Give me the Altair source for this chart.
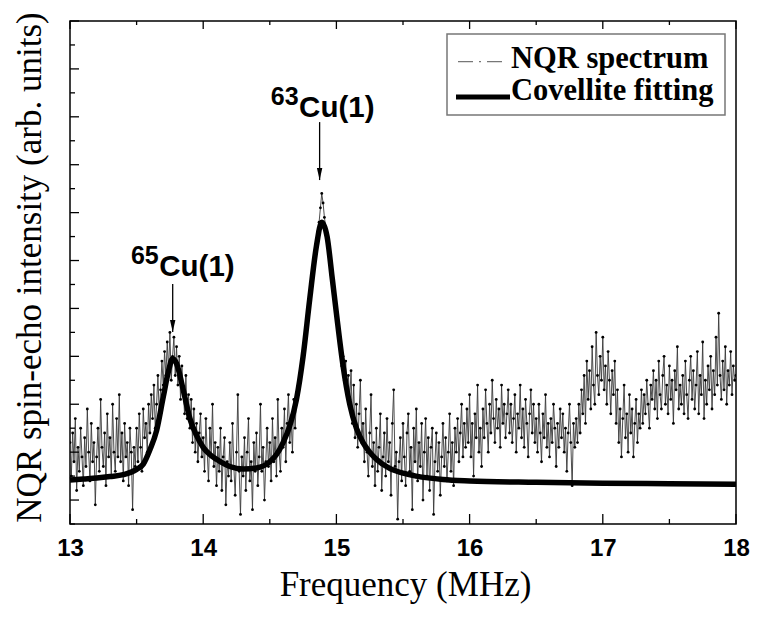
import altair as alt
import pandas as pd

# ---------------- data ----------------
# spectrum: one row per 0.1 MHz, starting frequency of each row, 0.01 MHz step inside a row
ROW_START = 13.0
ROW_SPAN = 0.1
STEP = 0.01
spectrum_rows = [
    [1.2, 0.5, 1.4, 0.8, 1.7, 0.2, 1.1, 0.6, 1.5, 0.9],
    [0.3, 1.3, 0.7, 1.9, 1.0, 0.4, 1.6, 0.8, 1.2, -0.1],
    [0.9, 1.5, 0.6, 2.1, 1.1, 0.7, 1.4, 0.3, 1.8, 0.9],
    [1.3, 0.5, 2.0, 1.0, 0.6, 1.7, 0.9, 2.2, 0.8, 1.4],
    [0.4, 1.6, 0.9, 1.2, 0.3, 1.5, 1.0, -0.2, 1.1, 0.7],
    [1.5, 0.8, 1.8, 1.1, 0.6, 1.9, 1.3, 1.6, 1.0, 2.0],
    [1.4, 2.2, 1.7, 2.4, 1.5, 2.0, 2.6, 1.8, 2.3, 2.9],
    [2.4, 3.1, 2.6, 3.3, 2.7, 3.5, 2.5, 3.0, 3.4, 2.6],
    [3.2, 2.4, 3.0, 2.1, 2.8, 2.3, 1.8, 2.6, 1.7, 2.2],
    [1.5, 2.1, 1.2, 1.9, 1.0, 1.6, 0.8, 1.4, 1.8, 0.9],
    [1.3, 0.6, 1.7, 1.0, 0.4, 1.5, 0.9, 2.0, 0.7, 1.2],
    [0.3, 1.1, 0.6, 1.5, 0.2, 0.9, 1.3, -0.1, 0.8, 0.5],
    [1.2, 0.4, 1.6, 0.7, 0.1, 1.0, 2.2, 0.6, -0.3, 0.9],
    [0.5, 1.3, 0.2, 1.0, 1.7, 0.4, 0.8, -0.2, 1.2, 0.6],
    [1.4, 0.3, 0.9, 2.0, 0.6, 1.1, 0.0, 0.8, 1.5, 0.7],
    [1.2, 0.4, 1.7, 0.8, 1.3, 0.5, 2.1, 1.0, 0.6, 1.5],
    [1.1, 1.9, 0.8, 1.6, 2.2, 1.2, 1.7, 1.0, 2.1, 1.5],
    [2.1, 2.3, 2.4, 2.7, 2.8, 3.1, 3.3, 3.6, 3.8, 4.1],
    [4.2, 4.5, 4.8, 5.0, 5.2, 5.4, 5.6, 5.8, 6.1, 6.4],
    [6.2, 5.9, 5.7, 5.5, 5.2, 5.0, 4.7, 4.5, 4.3, 4.1],
    [3.9, 3.6, 3.4, 3.2, 2.8, 3.0, 2.5, 2.9, 2.3, 2.6],
    [2.1, 2.7, 1.6, 2.4, 1.3, 2.0, 1.1, 1.8, 2.5, 1.2],
    [1.6, 0.8, 1.9, 1.0, 0.5, 1.4, 2.2, 0.7, 1.2, 0.3],
    [1.5, 0.6, 1.1, 1.8, 0.2, 0.9, 1.4, 0.5, 1.7, 0.8],
    [1.2, 0.1, 1.6, 2.3, 0.7, 1.0, -0.4, 0.8, 1.3, 0.4],
    [1.6, 0.9, 0.3, 1.4, 1.8, 0.6, 1.1, -0.2, 1.5, 0.8],
    [1.9, 0.4, 1.2, 0.7, 1.6, 0.0, 1.0, 1.7, 0.5, 1.3],
    [0.2, 1.1, 1.5, -0.3, 0.8, 1.4, 0.6, 1.2, 0.1, 0.9],
    [1.6, 0.7, 1.3, 0.4, 1.0, 1.8, 0.6, 1.2, 0.3, 1.5],
    [1.0, 1.7, 0.8, 1.4, 2.0, 0.9, 1.6, 1.1, 1.9, 1.2],
    [2.2, 0.9, 1.6, 0.5, 1.8, 1.3, 2.4, 1.0, 1.5, 0.7],
    [1.9, 1.3, 2.3, 1.6, 1.0, 2.0, 1.4, 2.5, 1.7, 1.2],
    [2.1, 1.5, 1.9, 1.1, 2.4, 1.6, 2.0, 1.3, 1.8, 2.3],
    [1.4, 2.0, 1.2, 1.7, 2.2, 1.0, 1.8, 1.5, 2.4, 1.3],
    [1.9, 1.1, 2.1, 1.6, 0.9, 1.8, 2.3, 1.4, 2.0, 1.2],
    [1.7, 1.0, 2.0, 1.4, 0.8, 1.8, 1.3, 2.2, 1.1, 1.6],
    [0.9, 1.7, 1.2, 2.0, 1.5, 0.7, 1.6, 1.1, 1.9, 1.3],
    [1.8, 1.0, 1.5, 0.6, 1.4, 2.0, 1.2, 0.3, 1.6, 1.1],
    [1.7, 1.2, 2.0, 1.4, 2.3, 1.8, 2.6, 1.6, 2.9, 2.1],
    [2.7, 1.9, 3.2, 2.4, 2.0, 3.5, 2.6, 2.2, 3.0, 2.5],
    [3.4, 2.3, 2.8, 2.0, 3.1, 2.5, 1.8, 2.7, 2.2, 2.9],
    [1.6, 2.3, 1.2, 1.9, 0.9, 1.7, 2.4, 1.3, 1.8, 1.0],
    [2.2, 1.4, 1.9, 0.9, 1.6, 2.1, 1.2, 1.8, 1.5, 2.3],
    [1.6, 2.2, 1.8, 2.5, 2.0, 1.5, 2.4, 2.1, 2.7, 1.9],
    [2.5, 1.7, 2.9, 2.2, 1.9, 2.6, 3.0, 2.0, 2.4, 1.8],
    [2.8, 2.1, 2.5, 1.6, 2.7, 2.3, 3.2, 1.9, 2.4, 2.0],
    [2.6, 1.8, 2.9, 2.2, 1.7, 2.5, 3.0, 2.1, 2.7, 1.9],
    [2.4, 3.1, 1.8, 2.6, 2.2, 3.3, 1.7, 2.5, 2.0, 2.8],
    [2.3, 3.0, 1.9, 2.7, 2.2, 3.4, 2.4, 3.9, 2.6, 2.1],
    [2.9, 2.3, 3.2, 2.0, 2.7, 2.4, 3.1, 2.2, 2.8, 2.5],
    [2.6],
]

fit_freq = [13.0, 13.1, 13.2, 13.3, 13.4, 13.5, 13.55, 13.6, 13.65, 13.7, 13.74, 13.77, 13.8, 13.85,
            13.9, 13.95, 14.0, 14.05, 14.1, 14.2, 14.3, 14.4, 14.5, 14.55, 14.6, 14.65, 14.7, 14.75,
            14.8, 14.85, 14.89, 14.93, 14.97, 15.0, 15.05, 15.1, 15.15, 15.2, 15.25, 15.3, 15.4,
            15.5, 15.6, 15.8, 16.0, 16.5, 17.0, 17.5, 18.0]
fit_val = [0.42, 0.44, 0.46, 0.49, 0.53, 0.64, 0.75, 1.05, 1.45, 2.15, 2.7, 2.95, 2.85, 2.3,
           1.7, 1.35, 1.1, 0.95, 0.85, 0.7, 0.65, 0.67, 0.8, 0.95, 1.2, 1.55, 2.1, 3.0,
           4.2, 5.3, 5.8, 5.5, 4.6, 3.9, 2.8, 2.0, 1.5, 1.2, 1.0, 0.85, 0.66,
           0.56, 0.5, 0.43, 0.4, 0.37, 0.35, 0.34, 0.33]

x_major = [13, 14, 15, 16, 17, 18]
x_minor = [13.5, 14.5, 15.5, 16.5, 17.5]
y_major = [0, 1, 2, 3, 4, 5, 6, 7, 8, 9, 10]
y_minor = [-0.5, 0.5, 1.5, 2.5, 3.5, 4.5, 5.5, 6.5, 7.5, 8.5, 9.5]

ann_sup = ["63", "65"]
ann_label = ["Cu(1)", "Cu(1)"]
ann_text_f = [14.72, 13.67]
ann_text_v = [8.0, 4.68]
arrow_f = [14.874, 13.771]
arrow_top = [7.89, 4.51]
arrow_tip = [6.68, 3.51]

legend_labels = ["NQR spectrum", "Covellite fitting"]

# ---------------- tables ----------------
spec_f, spec_v = [], []
for r, row in enumerate(spectrum_rows):
    for j, val in enumerate(row):
        spec_f.append(round(ROW_START + r * ROW_SPAN + j * STEP, 4))
        spec_v.append(val)
spec_df = pd.DataFrame({"f": spec_f, "v": spec_v})
fit_df = pd.DataFrame({"f": fit_freq, "v": fit_val})
xmaj_df = pd.DataFrame({"f": x_major})
xmin_df = pd.DataFrame({"f": x_minor})
ymaj_df = pd.DataFrame({"v": y_major})
ymin_df = pd.DataFrame({"v": y_minor})
ann_df = pd.DataFrame({"f": ann_text_f, "v": ann_text_v, "sup": ann_sup, "lab": ann_label})
arr_df = pd.DataFrame({"f": arrow_f, "v": arrow_top, "v2": arrow_tip})
tip_df = pd.DataFrame({"f": arrow_f, "v": arrow_tip})
one = pd.DataFrame({"k": [0]})

W, H = 666, 503

x_scale = alt.Scale(domain=[13, 18], nice=False, zero=False)
y_scale = alt.Scale(domain=[-0.5, 10], nice=False, zero=False)

x_axis = alt.Axis(
    title="Frequency (MHz)", values=x_major, format="d",
    ticks=False, domain=False, grid=False, tickSize=0,
    labelFont="Liberation Sans", labelFontWeight="bold", labelFontSize=24, labelColor="black",
    labelBaseline="alphabetic", labelPadding=31, labelFlush=False, labelOverlap=False,
    titleFont="Liberation Serif", titleFontWeight="normal", titleFontSize=35, titleColor="black",
    titleBaseline="alphabetic", titleX=W / 2 + 2, titleY=71, titleAlign="center",
)
y_axis = alt.Axis(
    title="NQR spin-echo intensity (arb. units)",
    labels=False, ticks=False, domain=False, grid=False,
    titleFont="Liberation Serif", titleFontWeight="normal", titleFontSize=35, titleColor="black",
    titleAngle=270, titleBaseline="alphabetic", titleAlign="center", titleX=-30, titleY=246,
)

X = alt.X("f:Q", scale=x_scale, axis=x_axis)
Y = alt.Y("v:Q", scale=y_scale, axis=y_axis)

spec_line = alt.Chart(spec_df).mark_line(color="#3a3a3a", strokeWidth=0.9, clip=True).encode(x=X, y=Y)
spec_pts = alt.Chart(spec_df).mark_circle(color="black", size=8, opacity=1, clip=True).encode(x=X, y=Y)
fit_line = alt.Chart(fit_df).mark_line(color="black", strokeWidth=5.5, interpolate="monotone").encode(x=X, y=Y)

tick_style = dict(color="black", strokeWidth=1.3)
bx_maj = alt.Chart(xmaj_df).mark_rule(**tick_style).encode(x=X, y=alt.value(H), y2=alt.value(H - 10))
bx_min = alt.Chart(xmin_df).mark_rule(**tick_style).encode(x=X, y=alt.value(H), y2=alt.value(H - 5))
tx_maj = alt.Chart(xmaj_df).mark_rule(**tick_style).encode(x=X, y=alt.value(0), y2=alt.value(8))
tx_min = alt.Chart(xmin_df).mark_rule(**tick_style).encode(x=X, y=alt.value(0), y2=alt.value(4))
ly_maj = alt.Chart(ymaj_df).mark_rule(**tick_style).encode(y=Y, x=alt.value(0), x2=alt.value(9))
ly_min = alt.Chart(ymin_df).mark_rule(**tick_style).encode(y=Y, x=alt.value(0), x2=alt.value(5))

arrows = alt.Chart(arr_df).mark_rule(color="black", strokeWidth=1.3).encode(x=X, y=Y, y2=alt.Y2("v2:Q"))
heads = alt.Chart(tip_df).mark_point(
    shape="M -0.45 -2 L 0.45 -2 L 0 0 Z", filled=True, size=144, color="black", opacity=1, strokeWidth=0
).encode(x=X, y=Y)

ann_main = alt.Chart(ann_df).mark_text(
    font="Liberation Sans", fontWeight="bold", fontSize=29.5, align="left", baseline="alphabetic", color="black"
).encode(x=X, y=Y, text="lab:N")
ann_sup_t = alt.Chart(ann_df).mark_text(
    font="Liberation Sans", fontWeight="bold", fontSize=25, align="right", baseline="alphabetic",
    color="black", dy=-12, dx=-0.5
).encode(x=X, y=Y, text="sup:N")

leg_box = alt.Chart(one).mark_rect(fill="white", stroke="#777777", strokeWidth=1.5).encode(
    x=alt.value(377), x2=alt.value(655), y=alt.value(13), y2=alt.value(94))
leg_s1 = alt.Chart(one).mark_rule(color="#777777", strokeWidth=1.3, strokeDash=[15, 6, 2, 6]).encode(
    x=alt.value(388), x2=alt.value(435), y=alt.value(40.7))
leg_s2 = alt.Chart(one).mark_rule(color="black", strokeWidth=5).encode(
    x=alt.value(386), x2=alt.value(440), y=alt.value(76))
leg_style = dict(font="Liberation Serif", fontWeight="bold", fontSize=30.5, align="left",
                 baseline="alphabetic", color="black")
leg_t1 = alt.Chart(one).mark_text(**leg_style).encode(
    x=alt.value(441), y=alt.value(47.3), text=alt.value(legend_labels[0]))
leg_t2 = alt.Chart(one).mark_text(**leg_style).encode(
    x=alt.value(441), y=alt.value(79), text=alt.value(legend_labels[1]))

chart = alt.layer(
    spec_line, spec_pts, fit_line,
    bx_maj, bx_min, tx_maj, tx_min, ly_maj, ly_min,
    arrows, heads, ann_main, ann_sup_t,
    leg_box, leg_s1, leg_s2, leg_t1, leg_t2,
).properties(
    width=W, height=H,
    autosize=alt.AutoSizeParams(type="none"),
    padding={"left": 62, "top": 13, "right": 14, "bottom": 80},
    background="white",
).configure_view(stroke="black", strokeWidth=1.5)

chart.save("out.html", embed_options={"renderer": "svg", "actions": False})
